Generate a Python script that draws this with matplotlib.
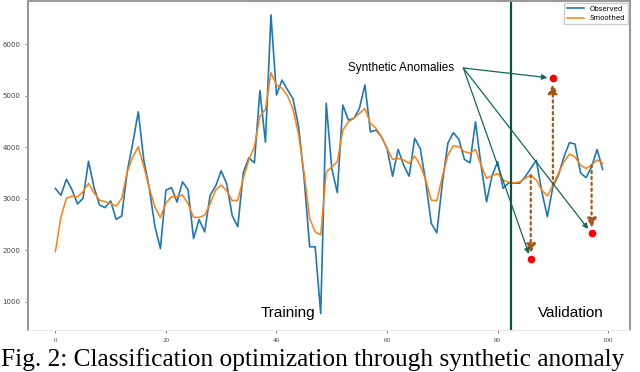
import numpy as np
import matplotlib.pyplot as plt

# observed series
observed = [3200, 3070, 3380, 3180, 2900, 3010, 3730, 3220, 2880, 2830,
            2960, 2600, 2670, 3530, 4080, 4690, 3750, 3200, 2470, 2035,
            3170, 3220, 2940, 3330, 3180, 2230, 2600, 2360, 3070, 3250,
            3545, 3290, 2670, 2460, 3510, 3795, 3700, 5100, 4100, 6570,
            5015, 5305, 5115, 4940, 4400, 3400, 2070, 2070, 775, 4855,
            3590, 3120, 4820, 4530, 4560, 4755, 5210, 4300, 4335, 4200,
            3980, 3440, 3960, 3655, 3440, 4175, 3980, 3330, 2525, 2340,
            3300, 4080, 4285, 4155, 3765, 3700, 4495, 3655, 2945, 3450,
            3720, 3205, 3310, 3305, 3305, 3430, 3590, 3750, 3140, 2655,
            3235, 3460, 3815, 4090, 4065, 3505, 3410, 3625, 3960, 3570]

smoothed = [1975, 2650, 3010, 3055, 3040, 3140, 3300, 3120, 2975, 2945,
            2910, 2860, 3010, 3525, 3815, 4010, 3625, 3205, 2845, 2635,
            2920, 3040, 3040, 3075, 2910, 2640, 2640, 2685, 2910, 3170,
            3270, 3155, 2965, 2975, 3400, 3755, 4010, 4600, 4740, 5450,
            5210, 5145, 5000, 4740, 4240, 3495, 2620, 2360, 2300, 3525,
            3620, 3720, 4335, 4495, 4565, 4660, 4755, 4465, 4370, 4205,
            3980, 3765, 3785, 3755, 3690, 3830, 3655, 3365, 2975, 2965,
            3430, 3850, 4030, 4010, 3915, 3885, 3960, 3655, 3400, 3450,
            3490, 3365, 3320, 3310, 3330, 3400, 3460, 3365, 3170, 3055,
            3270, 3495, 3720, 3870, 3815, 3655, 3590, 3655, 3755, 3690]

anom_x = [86, 90, 97]
anom_y = [1830, 5340, 2330]

split_x = 82.5

if __name__ == '__main__':
  x = np.arange(len(observed))
  fig = plt.figure(figsize=(6.4, 3.72), dpi=100)
  ax = fig.add_axes([28/640., 1-330/372., 602/640., 329/372.])

  ax.plot(x, observed, color='#1f77b4', lw=1.2, label='Observed')
  ax.plot(x, smoothed, color='#ff7f0e', lw=1.1, label='Smoothed')
  ax.axvline(split_x, color='#0b5345', lw=1.6)

  brown = '#a5561b'
  green = '#14675a'
  for xa, ya in zip(anom_x, anom_y):
    ax.annotate('', xy=(xa, ya), xytext=(xa, smoothed[xa]),
                arrowprops=dict(arrowstyle='-|>', linestyle=':', lw=1.6,
                                color=brown, mutation_scale=14,
                                shrinkA=0, shrinkB=4))
    ax.annotate('', xy=(xa, ya), xytext=(73.8, 5540),
                arrowprops=dict(arrowstyle='-|>', lw=0.9, color=green,
                                mutation_scale=8, shrinkA=0, shrinkB=4))
  ax.plot(anom_x, anom_y, 'o', color='red', ms=4.5, zorder=5)

  ax.text(62.6, 5540, 'Synthetic Anomalies', fontsize=8.5,
          ha='center', va='center', family='Liberation Sans')
  ax.text(42, 780, 'Training', fontsize=11, ha='center', va='center',
          family='Liberation Sans')
  ax.text(93.2, 780, 'Validation', fontsize=11, ha='center', va='center',
          family='Liberation Sans')

  ax.set_xlim(-4.95, 103.95)
  ax.set_ylim(455, 6840)
  ax.set_xticks([0, 20, 40, 60, 80, 100])
  ax.set_yticks([1000, 2000, 3000, 4000, 5000, 6000])
  ax.tick_params(labelsize=5, length=2, width=0.5, colors='#444444')
  for lab in ax.get_xticklabels():
    lab.set_family('Liberation Serif')
  for s in ['left', 'top', 'right']:
    ax.spines[s].set_color('#999999')
    ax.spines[s].set_linewidth(1.5)
  ax.spines['bottom'].set_color('#e8e8e8')

  leg = ax.legend(loc='upper right', fontsize=5, handlelength=2.5,
                  borderaxespad=0.3, framealpha=1)

  fig.text(0.002, 1-366/372., 'Fig. 2: Classification optimization through synthetic anomaly',
           fontsize=18.3, family='Liberation Serif', ha='left', va='baseline')

  fig.savefig('out.png', dpi=100)
# end __main__
